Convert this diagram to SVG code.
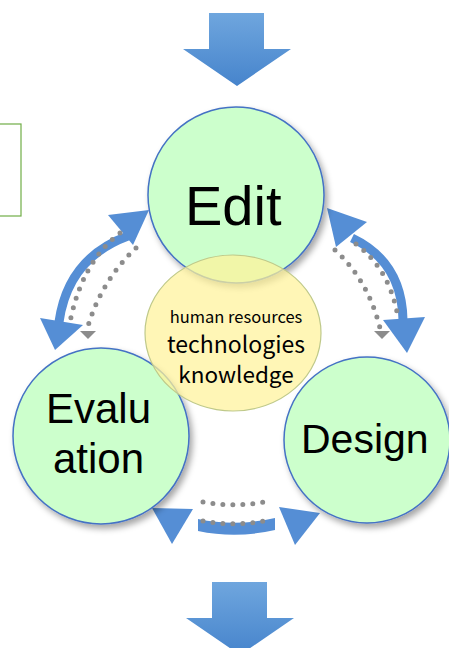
<svg xmlns="http://www.w3.org/2000/svg" width="449" height="648" viewBox="0 0 449 648">
<defs>
<linearGradient id="gArrow" x1="0" y1="0" x2="0" y2="1">
<stop offset="0" stop-color="#6FA6DE"/>
<stop offset="1" stop-color="#4684CC"/>
</linearGradient>
<filter id="shadow" x="-20%" y="-20%" width="140%" height="140%">
<feDropShadow dx="3" dy="4" stdDeviation="3" flood-color="#000" flood-opacity="0.35"/>
</filter>
<style>
.green{fill:#CCFFCC;stroke:#4472C4;stroke-width:1.5;filter:url(#shadow)}
.yellow{fill:#FFF29A;fill-opacity:0.72;stroke:#BFC98A;stroke-width:1.2}
.label{font-family:"Liberation Sans",Arial,sans-serif;fill:#000}
.small{font-family:"Noto Sans CJK JP","Noto Sans",sans-serif;fill:#000;text-anchor:middle}
.band{fill:none;stroke:#558ED5;stroke-width:9}
.head{fill:#558ED5}
.dots{fill:none;stroke:#8C8C8C;stroke-width:5;stroke-linecap:round;stroke-dasharray:0 10}
.ghead{fill:#8C8C8C}
</style>
</defs>
<rect x="-2" y="124" width="23" height="92" fill="#fff" stroke="#70AD47" stroke-width="1.2"/>
<g id="arrow-in">
<polygon points="209,13 264,13 264,49 291,49 237,86 183,49 209,49" fill="url(#gArrow)"/>
</g>
<g id="arrow-out">
<polygon points="212,582 267,582 267,618 294,618 240,655 186,618 212,618" fill="url(#gArrow)"/>
</g>
<g id="connectors">
<path class="band" d="M128,236 Q68,258 59,322"/>
<polygon class="head" points="149,210 108,215 133,245"/>
<polygon class="head" points="55,350 40,318 83,325"/>
<path class="dots" d="M120,233 Q82,262 70,322"/>
<path class="dots" d="M136,248 Q102,280 88,326"/>
<polygon class="ghead" points="80,331 96,331 88,339"/>
<path class="band" d="M352,238 Q402,262 403,320"/>
<polygon class="head" points="327,208 367,222 336,247"/>
<polygon class="head" points="407,353 383,320 425,317"/>
<path class="dots" d="M335,250 Q368,280 380,328"/>
<path class="dots" d="M356,244 Q388,268 397,312"/>
<polygon class="ghead" points="374,331 390,331 382,339"/>
<path d="M198,519 Q236,527 275,518 L275,530 Q236,539 198,531 Z" fill="#558ED5"/>
<path class="dots" d="M203,521 Q236,527 270,520" stroke-width="4" stroke-dasharray="0 11"/>
<path class="dots" d="M203,502 Q236,508 269,501" stroke-dasharray="0 11"/>
<polygon class="head" points="152,508 193,509 172,544"/>
<polygon class="head" points="279,507 320,513 295,545"/>
</g>
<g id="edit">
<circle class="green" cx="236" cy="195" r="88"/>
<text class="label" x="185" y="225" font-size="56">Edit</text>
</g>
<g id="evaluation">
<circle class="green" cx="101" cy="436" r="88"/>
<text class="label" x="46" y="423" font-size="42">Evalu</text>
<text class="label" x="53" y="473" font-size="42">ation</text>
</g>
<g id="design">
<circle class="green" cx="367" cy="440" r="83"/>
<text class="label" x="301" y="453" font-size="41">Design</text>
</g>
<g id="core">
<ellipse class="yellow" cx="233" cy="333" rx="88" ry="78"/>
<text class="small" x="236" y="323" font-size="16.5">human resources</text>
<text class="small" x="236" y="353" font-size="23">technologies</text>
<text class="small" x="236" y="383" font-size="22.5">knowledge</text>
</g>
</svg>
